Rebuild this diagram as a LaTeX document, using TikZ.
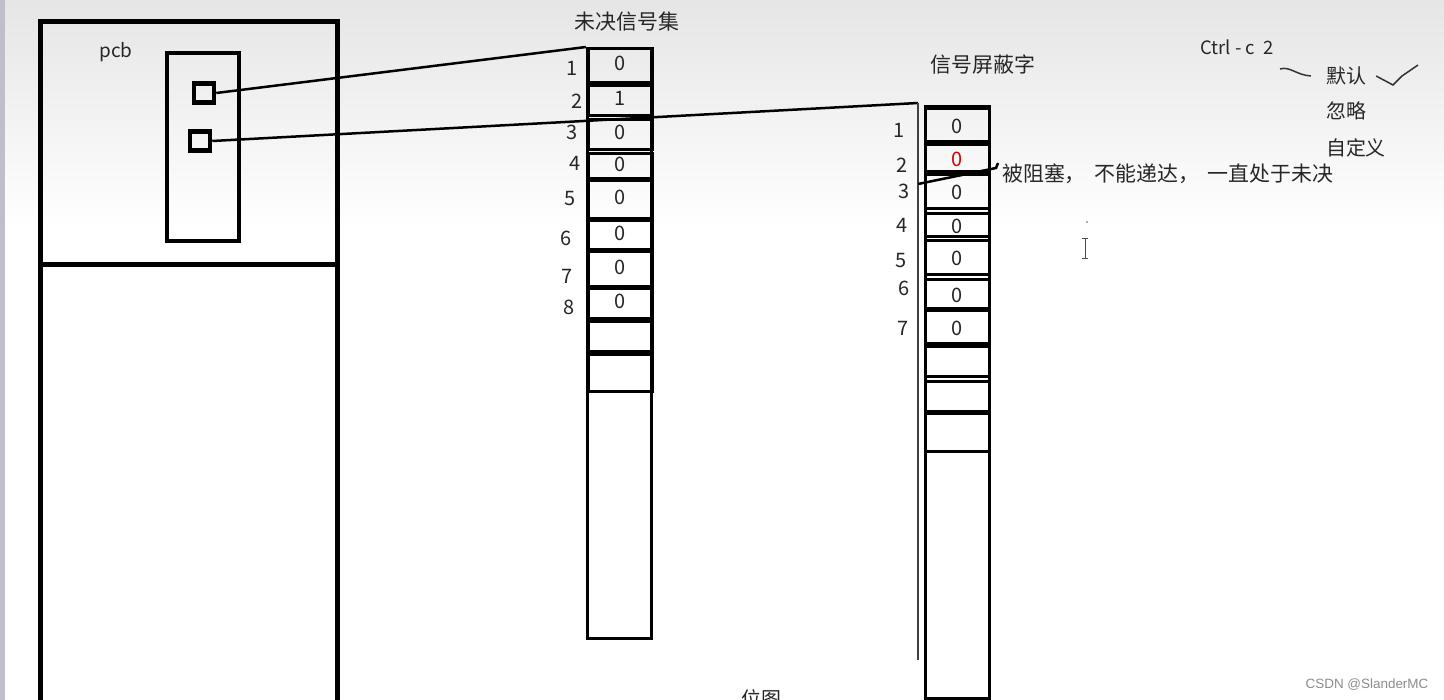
\documentclass[tikz,border=0pt]{standalone}
\usepackage{fontspec}
\setmainfont{Noto Sans CJK SC}
\newfontfamily\wmfont{Liberation Sans}
\begin{document}
\begin{tikzpicture}[x=1bp, y=-1bp,
  thickbox/.style={draw, line width=4.5bp, inner sep=0pt},
  cellbox/.style={draw, line width=3bp, inner sep=0pt, minimum width=64bp},
  bit/.style={font=\fontsize{20}{22}\selectfont, inner sep=0pt, text=black!85},
  num/.style={font=\fontsize{20}{22}\selectfont, inner sep=0pt, text=black!85},
  zh/.style={font=\fontsize{20}{22}\selectfont, inner sep=0pt, text=black!85},
  link/.style={line width=2.5bp}]
\useasboundingbox (0,0) rectangle (1444,700);
% background
\fill[white] (0,0) rectangle (1444,700);
\shade[top color=black!10, bottom color=white] (0,0) rectangle (1444,230);
\fill[blue!20!black!25] (0,0) rectangle (5,700);

% pcb
\draw[line width=5bp] (40,705) -- (40,22) -- (337,22) -- (337,705);
\draw[line width=5bp] (40,264) -- (337,264);
\node[zh, font=\fontsize{19}{20}\selectfont] (pcb) at (116,52) {pcb};
\node[thickbox, minimum width=72bp, minimum height=188bp] (tbl) at (203,147) {};
\node[thickbox, minimum width=20bp, minimum height=19bp] (s1) at (204,93) {};
\node[thickbox, minimum width=20bp, minimum height=19bp] (s2) at (200,141) {};

% pending set
\node[zh, font=\fontsize{21}{22}\selectfont] (pendtitle) at (627,22) {未决信号集};
\node[cellbox, minimum height=590bp, anchor=north west] (pend) at (586,47) {};
\foreach \t/\b/\v [count=\i] in {47/81/0, 84/114/1, 118/148/0, 152/177/0, 179/217/0,
    219/248/0, 250/285/0, 287/317/0, 320/350/{}, 353/390/{}}{
  \node[cellbox, minimum height={(\b-\t)*1bp}, anchor=north west] (p\i) at (587,\t) {};
  \node[bit] at ([yshift=2bp]p\i.center) {\v};
}
\foreach \x/\y [count=\i] in {572/68, 577/101, 572/132, 575/163, 570/199, 566/238, 567/276, 569/307}
  \node[num] (pn\i) at (\x,\y) {\i};

% signal mask
\node[zh, font=\fontsize{21}{22}\selectfont] (masktitle) at (983,65) {信号屏蔽字};
\node[cellbox, minimum height=592bp, anchor=north west] (mask) at (924,105) {};
\foreach \t/\b/\v [count=\i] in {107/140/0, 143/170/{\color{red!85!black}0}, 173/207/0, 212/235/0,
    239/273/0, 278/307/0, 309/342/0, 345/375/{}, 380/410/{}, 412/450/{}}{
  \node[cellbox, minimum height={(\b-\t)*1bp}, anchor=north west] (m\i) at (924,\t) {};
  \node[bit] at ([yshift=-1bp]m\i.center) {\v};
}
\foreach \x/\y [count=\i] in {899/130, 902/165, 904/191, 902/225, 901/261, 904/288, 903/328}
  \node[num] (mn\i) at (\x,\y) {\i};

% links from pcb
\coordinate (mtop) at (918,103);
\coordinate (mbot) at (918,660);
\draw[link] (s1.east) -- (pend.north west);
\draw[link] (s2.east) -- (mtop);
\draw[line width=2bp, black!75] (mtop) -- (mbot);

% blocked note
\node[zh, font=\fontsize{21}{22}\selectfont, anchor=west] (blk) at (1002,174) {被阻塞，\hspace*{4bp} 不能递达，\hspace*{4bp} 一直处于未决};
\coordinate (blkl) at (918,184);
\draw[link] (blkl) -- ([xshift=-6bp, yshift=6bp]blk.west) -- ++(2,-5);

% Ctrl-c handling
\node[zh, font=\fontsize{18.5}{20}\selectfont] (ctrl) at (1237,47) {Ctrl - c\ \ 2};
\node[zh] (dft) at (1346,76) {默认};
\node[zh] (ign) at (1346,111) {忽略};
\node[zh] (cst) at (1356,148) {自定义};
\draw[line width=1.5bp, black!80] (1280,69) .. controls (1290,66) and (1296,75) .. ([xshift=-15bp]dft.west);
\draw[line width=1.5bp, black!80] ([xshift=10bp]dft.east) -- (1393,85) -- (1402,76) -- (1418,65);

% text cursor
\draw[line width=1bp, black!70] (1082,238) -- (1088,238) (1085,238) -- (1085,258) (1082,258) -- (1088,258);
\fill[black!60] (1087,222) circle (0.8);

% bottom
\node[zh] (bitmap) at (761,699) {位图};
\node[font=\wmfont\fontsize{13.5}{15}\selectfont, text=black!45, inner sep=0pt] (wm) at (1367,685) {CSDN @SlanderMC};
\end{tikzpicture}
\end{document}
